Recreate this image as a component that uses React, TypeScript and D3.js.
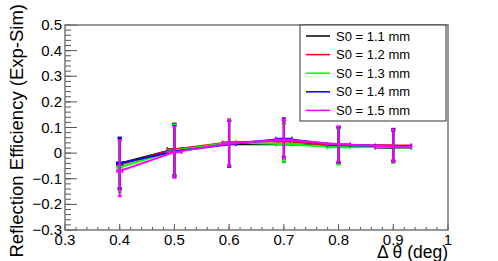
import React from "react";
import * as d3 from "d3";

const xValues = [0.4, 0.5, 0.6, 0.7, 0.8, 0.9];
const xErrors = [0.005, 0.013, 0.012, 0.015, 0.021, 0.033];
const labels = ["S0 = 1.1 mm", "S0 = 1.2 mm", "S0 = 1.3 mm", "S0 = 1.4 mm", "S0 = 1.5 mm"];
const colors = ["#000000", "#ff0000", "#00ff00", "#0000ff", "#ff00ff"];
const s11 = [-0.04, 0.015, 0.036, 0.035, 0.028, 0.022];
const s12 = [-0.045, 0.014, 0.042, 0.046, 0.03, 0.03];
const s13 = [-0.055, 0.01, 0.04, 0.036, 0.023, 0.025];
const s14 = [-0.04, 0.006, 0.035, 0.056, 0.032, 0.028];
const s15 = [-0.07, 0.004, 0.038, 0.052, 0.035, 0.026];
const errUp = [0.1, 0.1, 0.09, 0.08, 0.07, 0.065];
const errDown = [0.098, 0.1, 0.088, 0.07, 0.068, 0.058];
const s15ErrUp = [0.12, 0.1, 0.09, 0.08, 0.07, 0.065];
const series = [s11, s12, s13, s14, s15];
const xTicks = [0.3, 0.4, 0.5, 0.6, 0.7, 0.8, 0.9, 1];
const yTicks = [-0.3, -0.2, -0.1, 0, 0.1, 0.2, 0.3, 0.4, 0.5];

const W = 498, H = 261;
const L = 65, R = 448, T = 25, B = 230;

export default function App() {
  const x = d3.scaleLinear().domain([0.3, 1]).range([L, R]);
  const y = d3.scaleLinear().domain([-0.3, 0.5]).range([B, T]);
  const line = d3.line<number>().x((_, i) => x(xValues[i])).y((d) => y(d));
  const xMinor = d3.range(0.3, 1.0001, 0.02);
  const yMinor = d3.range(-0.3, 0.5001, 0.02);
  const fmt = (v: number) => {
    if (Math.abs(v) < 1e-9) return "0";
    return (v < 0 ? "\u2212" : "") + (v === 1 ? "1" : Math.abs(v).toFixed(1));
  };
  const font = "Liberation Sans, Arial, Helvetica, sans-serif";
  return (
    <svg width={W} height={H} style={{ position: "absolute", left: 0, top: 0, background: "#fff" }} fontFamily={font}>
      <rect x={0} y={0} width={W} height={H} fill="#fff" />
      {xMinor.map((v, i) => (
        <line key={"xm" + i} x1={x(v)} x2={x(v)} y1={B} y2={B - 3} stroke="#555" strokeWidth={1} />
      ))}
      {xTicks.map((v, i) => (
        <line key={"xM" + i} x1={x(v)} x2={x(v)} y1={B} y2={B - 6} stroke="#555" strokeWidth={1} />
      ))}
      {yMinor.map((v, i) => (
        <line key={"ym" + i} x1={L} x2={L + 6} y1={y(v)} y2={y(v)} stroke="#555" strokeWidth={1} />
      ))}
      {yTicks.map((v, i) => (
        <line key={"yM" + i} x1={L} x2={L + 12} y1={y(v)} y2={y(v)} stroke="#555" strokeWidth={1} />
      ))}
      <rect x={L} y={T} width={R - L} height={B - T} fill="none" stroke="#777" strokeWidth={1.5} />
      {xTicks.map((v, i) => (
        <text key={"xl" + i} x={x(v)} y={B + 15} fontSize={15} textAnchor="middle" fill="#000">
          {fmt(v)}
        </text>
      ))}
      {yTicks.map((v, i) => (
        <text key={"yl" + i} x={L - 3} y={y(v) + 5} fontSize={15} textAnchor="end" fill="#000">
          {fmt(v)}
        </text>
      ))}
      <text x={R} y={258} fontSize={17.5} textAnchor="end" fill="#000">{"\u0394 \u03b8 (deg)"}</text>
      <text transform={`translate(23, 4) rotate(-90)`} fontSize={18.5} textAnchor="end" fill="#000">
        Reflection Efficiency (Exp-Sim)
      </text>
      {series.map((s, si) => (
        <g key={"s" + si} stroke={colors[si]} fill={colors[si]}>
          {s.map((v, i) => {
            const up = si === 4 ? s15ErrUp[i] : errUp[i];
            const cx = x(xValues[i]);
            return (
              <g key={i}>
                <line x1={cx} x2={cx} y1={y(v + up)} y2={y(v - errDown[i])} strokeWidth={2} />
                <line x1={cx - 2} x2={cx + 2} y1={y(v + up)} y2={y(v + up)} strokeWidth={2} />
                <line x1={cx - 2} x2={cx + 2} y1={y(v - errDown[i])} y2={y(v - errDown[i])} strokeWidth={2} />
                <line x1={x(xValues[i] - xErrors[i])} x2={x(xValues[i] + xErrors[i])} y1={y(v)} y2={y(v)} strokeWidth={2} />
                <line x1={x(xValues[i] - xErrors[i])} x2={x(xValues[i] - xErrors[i])} y1={y(v) - 2} y2={y(v) + 2} strokeWidth={1.5} />
                <line x1={x(xValues[i] + xErrors[i])} x2={x(xValues[i] + xErrors[i])} y1={y(v) - 2} y2={y(v) + 2} strokeWidth={1.5} />
              </g>
            );
          })}
          <path d={line(s) || ""} fill="none" strokeWidth={2} />
        </g>
      ))}
      <rect x={300} y={25} width={146} height={96} fill="#fff" stroke="#333" strokeWidth={1} />
      {labels.map((lab, i) => {
        const ly = 36 + i * 18.6;
        return (
          <g key={"lg" + i}>
            <line x1={306} x2={330} y1={ly} y2={ly} stroke={colors[i]} strokeWidth={1.5} />
            <text x={336} y={ly + 4.5} fontSize={13} fill="#000">{lab}</text>
          </g>
        );
      })}
    </svg>
  );
}
